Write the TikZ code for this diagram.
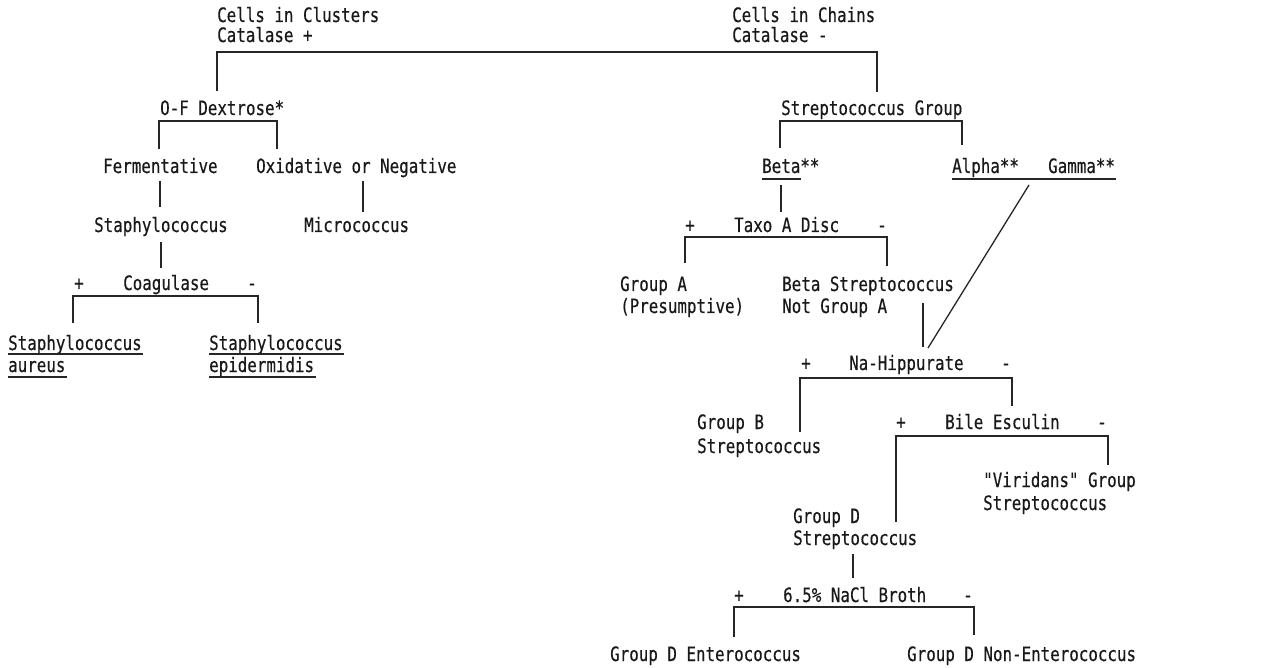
\documentclass[tikz,border=0pt]{standalone}
\usepackage{fontspec}
\newfontfamily\lgfont[FakeStretch=0.80,FakeBold=0.4]{DejaVu Sans Mono}
\begin{document}
\begin{tikzpicture}[x=1pt,y=-1pt,
  lbl/.style={anchor=base west,inner sep=0pt,font=\lgfont\fontsize{19.8}{22}\selectfont,text=black!90},
  sgn/.style={anchor=base,inner sep=0pt,font=\lgfont\fontsize{19.8}{22}\selectfont,text=black!90},
  ln/.style={line width=1.3pt,black!85},
  ul/.style={line width=1.2pt,black!85}]
\useasboundingbox (0,0) rectangle (1264,668);
% ---------- texts ----------
\node[lbl] (clus1) at (217,22) {Cells in Clusters};
\node[lbl] (clus2) at (217,42) {Catalase +};
\node[lbl] (chain1) at (732,22) {Cells in Chains};
\node[lbl] (chain2) at (732,42) {Catalase -};
\node[lbl] (ofd) at (160,115) {O-F Dextrose*};
\node[lbl] (ferm) at (103,173) {Fermentative};
\node[lbl] (oxid) at (256,173) {Oxidative or Negative};
\node[lbl] (staph) at (94,232) {Staphylococcus};
\node[lbl] (micro) at (304,232) {Micrococcus};
\node[sgn] (coagp) at (79,290) {+};
\node[lbl] (coag) at (123,290) {Coagulase};
\node[sgn] (coagm) at (252,290) {-};
\node[lbl] (sa1) at (8,350) {Staphylococcus};
\node[lbl] (sa2) at (8,372) {aureus};
\node[lbl] (se1) at (209,350) {Staphylococcus};
\node[lbl] (se2) at (209,372) {epidermidis};
\node[lbl] (strg) at (781,115) {Streptococcus Group};
\node[lbl] (beta) at (762,173) {Beta**};
\node[lbl] (alpha) at (952,173) {Alpha**};
\node[lbl] (gamma) at (1048,173) {Gamma**};
\node[sgn] (taxop) at (690,232) {+};
\node[lbl] (taxo) at (734,232) {Taxo A Disc};
\node[sgn] (taxom) at (882,232) {-};
\node[lbl] (ga1) at (620,291) {Group A};
\node[lbl] (ga2) at (620,313) {(Presumptive)};
\node[lbl] (bs1) at (782,291) {Beta Streptococcus};
\node[lbl] (bs2) at (782,313) {Not Group A};
\node[sgn] (hipp) at (806,370) {+};
\node[lbl] (hip) at (849,370) {Na-Hippurate};
\node[sgn] (hipm) at (1006,370) {-};
\node[lbl] (gb1) at (697,429) {Group B};
\node[lbl] (gb2) at (697,453) {Streptococcus};
\node[sgn] (bilep) at (901,429) {+};
\node[lbl] (bile) at (945,429) {Bile Esculin};
\node[sgn] (bilem) at (1102,429) {-};
\node[lbl] (vir1) at (983,487) {"Viridans" Group};
\node[lbl] (vir2) at (983,510) {Streptococcus};
\node[lbl] (gd1) at (793,523) {Group D};
\node[lbl] (gd2) at (793,545) {Streptococcus};
\node[sgn] (naclp) at (739,602) {+};
\node[lbl] (nacl) at (783,602) {6.5\% NaCl Broth};
\node[sgn] (naclm) at (968,602) {-};
\node[lbl] (ent) at (610,661) {Group D Enterococcus};
\node[lbl] (nonent) at (907,661) {Group D Non-Enterococcus};
% ---------- coordinates ----------
\coordinate (t1l) at (217,91);  \coordinate (t1r) at (877,52);  \coordinate (t1rb) at (877,92);
\coordinate (t2l) at (159,149); \coordinate (t2r) at (277,121); \coordinate (t2rb) at (277,149);
\coordinate (f1) at (160,181);  \coordinate (f2) at (160,207);
\coordinate (o1) at (363,181);  \coordinate (o2) at (363,212);
\coordinate (s1) at (161,242);  \coordinate (s2) at (161,268);
\coordinate (c1l) at (73,323);  \coordinate (c1r) at (258,296); \coordinate (c1rb) at (258,323);
\coordinate (g1l) at (780,148); \coordinate (g1r) at (962,121); \coordinate (g1rb) at (962,145);
\coordinate (b1) at (781,185);  \coordinate (b2) at (781,212);
\coordinate (x1l) at (685,263); \coordinate (x1r) at (887,237); \coordinate (x1rb) at (887,266);
\coordinate (v1) at (923,303);  \coordinate (v2) at (923,347);
\coordinate (d1) at (1029,185); \coordinate (d2) at (928,348);
\coordinate (h1l) at (800,432); \coordinate (h1r) at (1012,378); \coordinate (h1rb) at (1012,406);
\coordinate (e1l) at (896,522); \coordinate (e1r) at (1108,436); \coordinate (e1rb) at (1108,465);
\coordinate (gdv1) at (853,554); \coordinate (gdv2) at (853,578);
\coordinate (n1l) at (734,637); \coordinate (n1r) at (974,607); \coordinate (n1rb) at (974,635);
% ---------- connectors ----------
\draw[ln] (t1l) |- (t1r) -- (t1rb);
\draw[ln] (t2l) |- (t2r) -- (t2rb);
\draw[ln] (f1) -- (f2);
\draw[ln] (o1) -- (o2);
\draw[ln] (s1) -- (s2);
\draw[ln] (c1l) |- (c1r) -- (c1rb);
\draw[ln] (g1l) |- (g1r) -- (g1rb);
\draw[ln] (b1) -- (b2);
\draw[ln] (x1l) |- (x1r) -- (x1rb);
\draw[ln] (v1) -- (v2);
\draw[ln] (d1) -- (d2);
\draw[ln] (h1l) |- (h1r) -- (h1rb);
\draw[ln] (e1l) |- (e1r) -- (e1rb);
\draw[ln] (gdv1) -- (gdv2);
\draw[ln] (n1l) |- (n1r) -- (n1rb);
% ---------- underlines ----------
\draw[ul] (sa1.base west) ++(0,4) -- ++(135,0);
\draw[ul] (sa2.base west) ++(0,5) -- ++(59,0);
\draw[ul] (se1.base west) ++(0,4) -- ++(135,0);
\draw[ul] (se2.base west) ++(0,5) -- ++(107,0);
\draw[ul] (beta.base west) ++(0,6) -- ++(39,0);
\draw[ul] (alpha.base west) ++(0,6) -- ++(164,0);
\end{tikzpicture}
\end{document}
